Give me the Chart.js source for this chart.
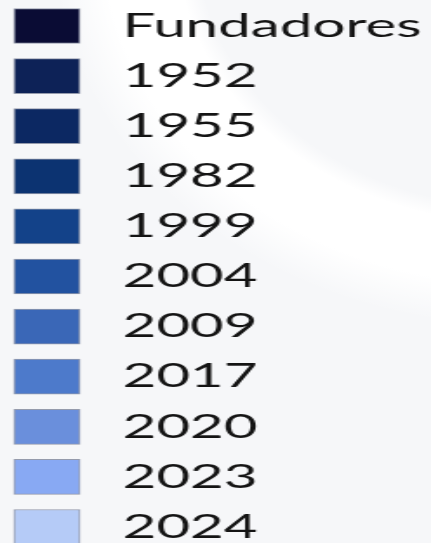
<!DOCTYPE html>
<html>
<head>
<meta charset="utf-8">
<script src="https://cdn.jsdelivr.net/npm/chart.js@4.4.1/dist/chart.umd.min.js"></script>
<style>
  html, body {
    margin: 0;
    padding: 0;
    width: 431px;
    height: 543px;
    overflow: hidden;
    background: #f6f7f9;
  }
  #bg {
    position: absolute;
    left: 0; top: 0;
    width: 431px; height: 543px;
    background: radial-gradient(ellipse 520px 430px at 520px -60px, rgba(255,255,255,0) 62%, #ffffff 66%, #ffffff 80%, rgba(255,255,255,0) 90%);
  }
  #wrap {
    position: absolute;
    left: 0; top: 0;
    width: 248px;
    height: 543px;
    transform: scaleX(1.738);
    transform-origin: 0 0;
  }
</style>
</head>
<body>
<div id="bg"></div>
<div id="wrap"><canvas id="graphCanvas"></canvas></div>
<script>
// legend entries (year of accession)
var categories = ['Fundadores', '1952', '1955', '1982', '1999', '2004', '2009', '2017', '2020', '2023', '2024'];
var swatchValues = [1, 1, 1, 1, 1, 1, 1, 1, 1, 1, 1];
var swatchColors = ['#0a0c34', '#0d2257', '#0c2862', '#0c3371', '#134289', '#2252a0',
                    '#3a67b7', '#4d7acb', '#6a8fdc', '#88a9f3', '#b5cbf7'];

var chartdata = {
    labels: categories,
    datasets: [
        {
            label: 'Adhesión',
            backgroundColor: swatchColors,
            borderColor: 'rgba(70,80,110,0.55)',
            borderWidth: 1,
            borderSkipped: false,
            barThickness: 35,
            clip: false,
            data: swatchValues
        }
    ]
};

var graphTarget = document.getElementById('graphCanvas');

var legendChart = new Chart(graphTarget, {
    type: 'bar',
    data: chartdata,
    options: {
        indexAxis: 'y',
        responsive: true,
        maintainAspectRatio: false,
        animation: false,
        layout: {
            padding: { left: 8, top: 26, bottom: 16, right: 0 }
        },
        plugins: {
            legend: { display: false },
            tooltip: { enabled: false }
        },
        scales: {
            x: {
                display: false,
                min: 0,
                max: 1
            },
            y: {
                type: 'category',
                position: 'right',
                offset: false,
                grid: { display: false, drawTicks: false },
                border: { display: false },
                ticks: {
                    padding: 24.5,
                    color: '#141414',
                    font: { family: 'Lato', size: 33.5, lineHeight: 1 }
                },
                afterFit: function (scale) {
                    scale.width = 248 - 46;
                    scale.paddingTop = 0;
                    scale.paddingBottom = 0;
                }
            }
        }
    }
});
</script>
</body>
</html>
